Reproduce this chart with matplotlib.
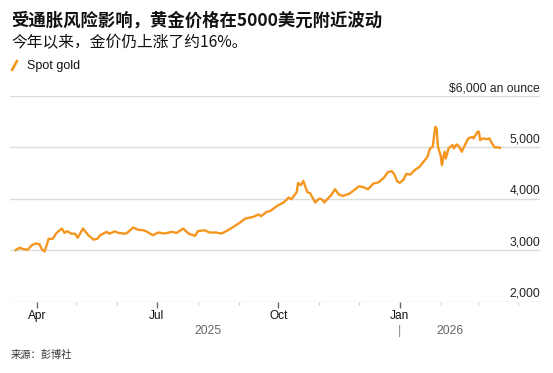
import pandas as pd
import matplotlib
matplotlib.use("Agg")
import matplotlib.pyplot as plt
import matplotlib.dates as mdates
from matplotlib.lines import Line2D

plt.rcParams['font.family'] = ['Liberation Sans', 'Noto Sans CJK SC', 'DejaVu Sans']

# data (spot gold, USD per ounce)
dates = [
    "2025-03-16", "2025-03-19", "2025-03-22", "2025-03-25", "2025-03-28", "2025-03-31",
    "2025-04-03", "2025-04-05", "2025-04-07", "2025-04-10", "2025-04-13", "2025-04-16",
    "2025-04-20", "2025-04-22", "2025-04-24", "2025-04-27", "2025-04-30", "2025-05-02",
    "2025-05-06", "2025-05-10", "2025-05-14", "2025-05-17", "2025-05-19", "2025-05-24",
    "2025-05-26", "2025-05-30", "2025-06-02", "2025-06-07", "2025-06-09", "2025-06-13",
    "2025-06-17", "2025-06-21", "2025-06-23", "2025-06-28", "2025-07-02", "2025-07-07",
    "2025-07-12", "2025-07-16", "2025-07-21", "2025-07-25", "2025-07-30", "2025-08-01",
    "2025-08-06", "2025-08-10", "2025-08-15", "2025-08-19", "2025-08-23", "2025-08-28",
    "2025-09-02", "2025-09-06", "2025-09-12", "2025-09-16", "2025-09-18", "2025-09-22",
    "2025-09-25", "2025-09-29", "2025-10-01", "2025-10-05", "2025-10-09", "2025-10-11",
    "2025-10-15", "2025-10-16", "2025-10-18", "2025-10-20", "2025-10-23", "2025-10-25",
    "2025-10-27", "2025-10-29", "2025-11-01", "2025-11-03", "2025-11-05", "2025-11-07",
    "2025-11-10", "2025-11-13", "2025-11-16", "2025-11-19", "2025-11-24", "2025-11-28",
    "2025-12-01", "2025-12-04", "2025-12-08", "2025-12-12", "2025-12-16", "2025-12-20",
    "2025-12-23", "2025-12-26", "2025-12-28", "2025-12-30", "2026-01-01", "2026-01-04",
    "2026-01-06", "2026-01-09", "2026-01-13", "2026-01-16", "2026-01-19", "2026-01-22",
    "2026-01-24", "2026-01-26", "2026-01-28", "2026-01-29", "2026-01-30", "2026-02-01",
    "2026-02-02", "2026-02-04", "2026-02-05", "2026-02-07", "2026-02-10", "2026-02-11",
    "2026-02-13", "2026-02-15", "2026-02-17", "2026-02-20", "2026-02-22", "2026-02-25",
    "2026-02-26", "2026-03-01", "2026-03-02", "2026-03-03", "2026-03-05", "2026-03-08",
    "2026-03-10", "2026-03-12", "2026-03-14", "2026-03-17", "2026-03-18",
]
prices = [
    3000, 3045, 3020, 3005, 3090, 3130,
    3115, 3010, 2975, 3220, 3220, 3335,
    3420, 3335, 3370, 3320, 3320, 3240,
    3420, 3290, 3205, 3220, 3290, 3355,
    3320, 3365, 3335, 3320, 3345, 3440,
    3395, 3385, 3365, 3290, 3343, 3323,
    3355, 3335, 3420, 3323, 3277, 3368,
    3387, 3343, 3343, 3323, 3374, 3452,
    3537, 3615, 3646, 3693, 3660, 3743,
    3763, 3841, 3874, 3926, 4023, 3990,
    4130, 4307, 4263, 4346, 4130, 4110,
    4023, 3926, 4003, 3990, 3926, 3990,
    4068, 4185, 4081, 4055, 4100, 4178,
    4242, 4230, 4185, 4295, 4320, 4408,
    4517, 4537, 4473, 4343, 4310, 4375,
    4485, 4470, 4570, 4620, 4718, 4815,
    4980, 5010, 5400, 5370, 5010, 4850,
    4655, 4915, 4785, 4980, 5045, 4980,
    5058, 5020, 4915, 5075, 5175, 5205,
    5175, 5305, 5305, 5140, 5175, 5160,
    5175, 5075, 5000, 5000, 4990,
]
y_ticks = [2000, 3000, 4000, 5000, 6000]
y_labels = ["2,000", "3,000", "4,000", "5,000", "$6,000 an ounce"]
x_major = ["2025-04-01", "2025-07-01", "2025-10-01", "2026-01-01"]
x_labels = ["Apr", "Jul", "Oct", "Jan"]
years = ["2025", "2026"]

dates = pd.to_datetime(dates)
x_major = pd.to_datetime(x_major)
orange = "#F5961F"

fig = plt.figure(figsize=(5.53, 3.73), dpi=100)
ax = fig.add_axes([10 / 553, 1 - 301.5 / 373, 530 / 553, 205.5 / 373])

ax.plot(dates, prices, color=orange, lw=1.7, solid_joinstyle="round")

ax.set_ylim(2000, 6000)
ax.set_xlim(pd.Timestamp("2025-03-11 17:00"), pd.Timestamp("2026-04-17 08:00"))

for s in ax.spines.values():
    s.set_visible(False)

ax.set_yticks(y_ticks)
ax.tick_params(axis="y", length=0, labelleft=False)
ax.grid(axis="y", color="#dcdcdc", lw=1)
ax.set_axisbelow(True)

for v, lab in zip(y_ticks, y_labels):
    ax.annotate(lab, xy=(1, v), xycoords=("axes fraction", "data"),
                xytext=(0, 3.5), textcoords="offset points",
                ha="right", va="baseline", fontsize=8.7, color="#222222")

ax.set_xticks(x_major)
ax.set_xticklabels(x_labels)
ax.xaxis.set_minor_locator(mdates.MonthLocator())
ax.tick_params(axis="x", which="major", length=4.3, width=1, color="#666666",
               labelsize=8.6, pad=1.5, labelcolor="#111111")
ax.tick_params(axis="x", which="minor", length=2.3, width=0.8, color="#cccccc")

# year labels centred under each year's data
xt = ax.get_xaxis_transform()
jan = x_major[-1]
ax.text(dates[0] + (jan - dates[0]) / 2, -0.145, years[0],
        transform=xt, ha="center", va="center", fontsize=8.8, color="#666666")
ax.text(jan + (dates[-1] - jan) / 2, -0.145,
        years[1], transform=xt, ha="center", va="center", fontsize=8.8, color="#666666")
ax.text(jan, -0.145, "|", transform=xt, ha="center",
        va="center", fontsize=9, color="#888888")

# title, subtitle, legend, source
fig.text(11.5 / 553, 1 - 20.7 / 373, "受通胀风险影响，黄金价格在5000美元附近波动",
         family=["Noto Sans CJK SC"], weight="bold", fontsize=12.5,
         ha="left", va="center", color="#111111")
fig.text(11.5 / 553, 1 - 43 / 373, "今年以来，金价仍上涨了约16%。",
         family=["Noto Sans CJK SC", "Liberation Sans"], fontsize=11.3,
         ha="left", va="center", color="#111111")
fig.add_artist(Line2D([12 / 553, 17 / 553], [1 - 70 / 373, 1 - 61 / 373],
                      color=orange, lw=2, solid_capstyle="round"))
fig.text(27 / 553, 1 - 65.5 / 373, "Spot gold", fontsize=9, ha="left", va="center",
         color="#111111")
fig.text(10.5 / 553, 1 - 355 / 373, "来源：彭博社", family=["Noto Sans CJK SC"],
         fontsize=7.4, ha="left", va="center", color="#333333")

fig.savefig("out.png", dpi=100)
